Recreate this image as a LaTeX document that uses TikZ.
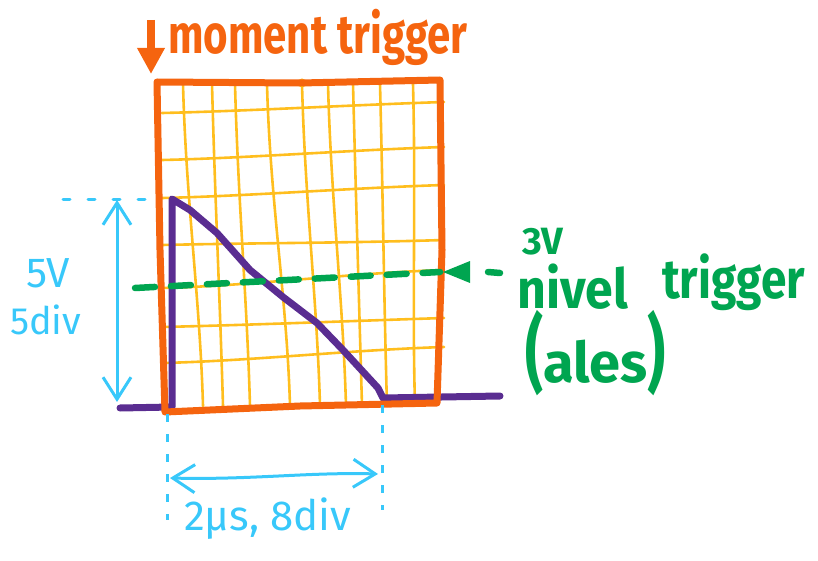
\documentclass[tikz,border=0pt]{standalone}
\usepackage{fontspec}
\setmainfont{Fira Sans}
\usetikzlibrary{arrows.meta}
\definecolor{orng}{HTML}{F5640F}
\definecolor{ylw}{HTML}{FFBE1E}
\definecolor{purp}{HTML}{5A2D91}
\definecolor{grn}{HTML}{00A550}
\definecolor{blu}{HTML}{38C8FA}
\tikzset{
  grid line/.style={ylw, line width=2.6pt, line cap=round},
  frame/.style={orng, line width=7pt, line join=round, line cap=round},
  wave/.style={purp, line width=7pt, line join=round, line cap=round},
  trig/.style={grn, line width=6.5pt, line cap=round, dash pattern=on 20pt off 16pt},
  meas/.style={blu, line width=3pt, line cap=round},
  measdash/.style={blu, line width=3pt, dash pattern=on 8pt off 12pt},
  dblbarb/.style={{Straight Barb[length=22pt,width=28pt]}-{Straight Barb[length=22pt,width=28pt]}},
  lblO/.style={orng, font=\fontsize{42}{46}\selectfont\bfseries, inner sep=0pt, anchor=base west},
  lblG/.style={grn, font=\fontsize{50}{54}\selectfont\bfseries, inner sep=0pt, anchor=base west},
  lblB/.style={blu, font=\fontsize{42}{46}\selectfont, inner sep=0pt, anchor=base west}
}
\begin{document}
\begin{tikzpicture}[x=1pt,y=-1pt]
\useasboundingbox (0,0) rectangle (818,561);
% grid
\foreach \a/\b in {183/203,212/223,235/250,267/290,302/320,328/346,353/362,380/387,413/415}
  \draw[grid line] (\a,84) .. controls (\a+3,200) and (\b-3,300) .. (\b,406);
\foreach \l/\r in {113/102,160/147,198/185,245/240,288/270,327/318,363/347}
  \draw[grid line] (162,\l) .. controls (250,\l-2) and (350,\r+3) .. (444,\r);
\fill[ylw] (302,83) circle (4.5pt);
% waveform
\coordinate (w0) at (120,408);
\coordinate (w1) at (172,407);
\coordinate (w2) at (172,199);
\coordinate (w3) at (383,398);
\coordinate (w4) at (500,396);
\draw[wave] (w0) -- (w1) -- (w2) -- (190,210) -- (217,233) -- (250,270) -- (283,297) -- (317,323) -- (343,350) -- (378,388) -- (w3) -- (w4);
% frame
\coordinate (f1) at (157,82);
\coordinate (f2) at (440,80);
\coordinate (f3) at (437,403);
\coordinate (f4) at (165,412);
\draw[frame] (f1) -- (300,83) -- (f2) -- (442,250) -- (f3) -- (300,406) -- (f4) -- (160,250) -- cycle;
% trigger level
\coordinate (t0) at (135,288);
\coordinate (t1) at (440,272);
\draw[trig] (t0) -- (t1);
\fill[grn] (443,272) -- (470,261) -- (470,283) -- cycle;
\draw[grn, line width=6.5pt, line cap=round] (488,272) -- (500,273);
% time trigger arrow
\coordinate (a0) at (151,20);
\coordinate (a1) at (151,74);
\draw[orng, line width=8pt, -{Triangle[length=26pt,width=26pt]}] (a0) -- (a1);
\node[lblO] (mt) at (168,54) {\scalebox{1}[1.3]{moment trigger}};
% green labels
\node[lblG, font=\fontsize{38}{42}\selectfont\bfseries] (v3) at (522,254) {3V};
\node[lblG] (niv) at (517,308) {\scalebox{1}[1.1]{nivel}};
\node[lblG, font=\fontsize{46}{50}\selectfont\bfseries] (trg) at (662,298) {\scalebox{1}[1.2]{trigger}};
\node[lblG, font=\fontsize{56}{60}\selectfont\bfseries] (ales) at (525,382) {\scalebox{1}[1.5]{(}ales\scalebox{1}[1.5]{)}};
% vertical measure
\coordinate (v0) at (63,200);
\coordinate (v1) at (152,200);
\draw[meas, dash pattern=on 7pt off 18pt] (v0) -- (v1);
\coordinate (va) at (117,200);
\coordinate (vb) at (117,402);
\draw[meas, dblbarb] (va) -- (vb);
\node[lblB] (l5v) at (26,287) {5V};
\node[lblB, font=\fontsize{38}{42}\selectfont] (l5d) at (10,334) {5div};
% horizontal measure
\coordinate (d0) at (167,414);
\coordinate (d1) at (167,520);
\coordinate (d2) at (382,405);
\coordinate (d3) at (382,510);
\draw[measdash] (d0) -- (d1);
\draw[measdash] (d2) -- (d3);
\coordinate (ha) at (170,478);
\coordinate (hb) at (378,474);
\draw[meas, dblbarb] (ha) .. controls (250,480) and (310,472) .. (hb);
\node[lblB] (l2) at (184,530) {2µs, 8div};
\end{tikzpicture}
\end{document}
